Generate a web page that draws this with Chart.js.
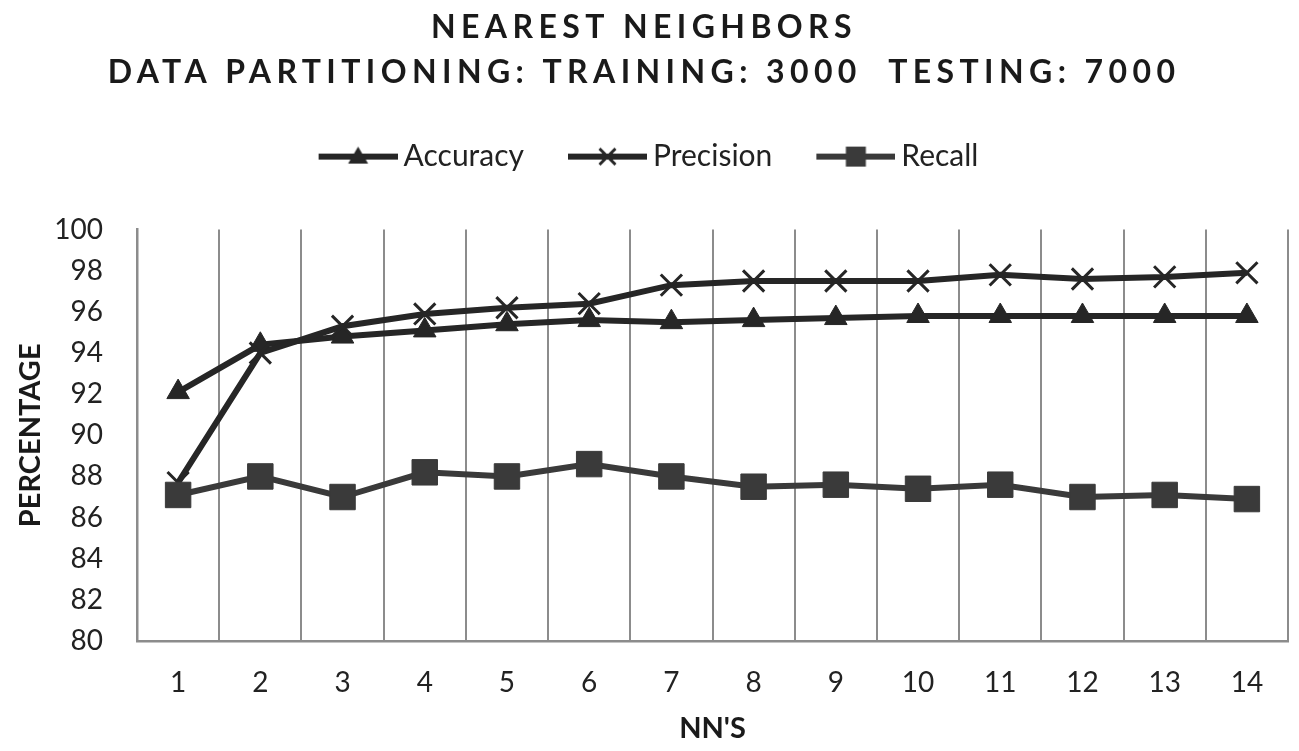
<!DOCTYPE html>
<html>
<head>
<meta charset="utf-8">
<title>Nearest Neighbors</title>
<script src="https://cdn.jsdelivr.net/npm/chart.js@4.4.1/dist/chart.umd.min.js"></script>
<style>
  html, body { margin: 0; background: #fff; }
  #wrap { width: 1299px; height: 751px; position: relative; }
</style>
</head>
<body>
<div id="wrap"><canvas id="nn"></canvas></div>
<script>
const neighbors = ['1', '2', '3', '4', '5', '6', '7', '8', '9', '10', '11', '12', '13', '14'];
const accuracy = [92.1, 94.4, 94.8, 95.1, 95.4, 95.6, 95.5, 95.6, 95.7, 95.8, 95.8, 95.8, 95.8, 95.8];
const precision = [87.7, 94.0, 95.3, 95.9, 96.2, 96.4, 97.3, 97.5, 97.5, 97.5, 97.8, 97.6, 97.7, 97.9];
const recall = [87.1, 88.0, 87.0, 88.2, 88.0, 88.6, 88.0, 87.5, 87.6, 87.4, 87.6, 87.0, 87.1, 86.9];
const yTicks = [80, 82, 84, 86, 88, 90, 92, 94, 96, 98, 100];

const font = 'Lato, "Open Sans", sans-serif';
const dark = '#262626';
const recallColor = '#3a3a3a';
const gridColor = '#8c8c8c';

// line + marker sample for the legend, like the spreadsheet legend
function legendGlyph(style, color) {
    const c = document.createElement('canvas');
    c.width = 97;
    c.height = 30;
    const g = c.getContext('2d');
    g.strokeStyle = color;
    g.fillStyle = color;
    g.lineWidth = 6;
    g.beginPath();
    g.moveTo(18, 15);
    g.lineTo(97, 15);
    g.stroke();
    const cx = 57.5, cy = 15;
    if (style === 'triangle') {
        g.beginPath();
        g.moveTo(cx, cy - 10);
        g.lineTo(cx + 10, cy + 7);
        g.lineTo(cx - 10, cy + 7);
        g.closePath();
        g.fill();
    } else if (style === 'cross') {
        g.lineWidth = 3;
        g.beginPath();
        g.moveTo(cx - 8, cy - 8);
        g.lineTo(cx + 8, cy + 8);
        g.moveTo(cx + 8, cy - 8);
        g.lineTo(cx - 8, cy + 8);
        g.stroke();
    } else {
        g.fillRect(cx - 10, cy - 10, 20, 20);
    }
    return c;
}

const glyphs = [
    legendGlyph('triangle', dark),
    legendGlyph('cross', dark),
    legendGlyph('square', recallColor)
];

// the title is letter-spaced in the original
const titleSpacing = {
    id: 'titleSpacing',
    afterLayout(chart) {
        const box = chart.titleBlock;
        if (!box || box.spaced) return;
        const draw = box.draw;
        box.draw = function () {
            this.ctx.save();
            this.ctx.letterSpacing = '5.4px';
            draw.apply(this, arguments);
            this.ctx.restore();
        };
        box.spaced = true;
    }
};

const ctx = document.getElementById('nn').getContext('2d');
new Chart(ctx, {
    type: 'line',
    data: {
        labels: neighbors,
        datasets: [{
            label: 'Accuracy',
            data: accuracy,
            borderColor: dark,
            backgroundColor: dark,
            borderWidth: 6,
            pointStyle: 'triangle',
            pointRadius: 13,
            pointBorderWidth: 1,
            order: 3
        }, {
            label: 'Precision',
            data: precision,
            borderColor: dark,
            backgroundColor: dark,
            borderWidth: 6,
            pointStyle: 'crossRot',
            pointRadius: 15,
            pointBorderWidth: 3,
            order: 2
        }, {
            label: 'Recall',
            data: recall,
            borderColor: recallColor,
            backgroundColor: recallColor,
            borderWidth: 6,
            pointStyle: 'rect',
            pointRadius: 18,
            pointBorderWidth: 1,
            order: 1
        }]
    },
    options: {
        responsive: true,
        maintainAspectRatio: false,
        animation: false,
        layout: {autoPadding: false, padding: {left: 0, right: 11, top: 0, bottom: 0}},
        scales: {
            x: {
                offset: true,
                grid: {
                    offset: true,
                    color: gridColor,
                    lineWidth: 2,
                    drawTicks: false
                },
                border: {display: true, color: gridColor, width: 2.5},
                ticks: {color: '#222', font: {family: font, size: 28}, padding: 25},
                title: {
                    display: true,
                    text: "NN'S",
                    color: '#1a1a1a',
                    font: {family: font, size: 29, weight: 'bold'},
                    padding: {top: 0, bottom: 5}
                },
                afterFit(scale) {
                    scale.height = 110;
                    scale.paddingLeft = 0;
                    scale.paddingRight = 0;
                }
            },
            y: {
                min: 80,
                max: 100,
                grid: {display: false, drawTicks: false},
                border: {display: true, color: gridColor, width: 2.5},
                afterBuildTicks(scale) {
                    scale.ticks = yTicks.map(v => ({value: v}));
                },
                ticks: {color: '#222', font: {family: font, size: 28}, padding: 34},
                title: {
                    display: true,
                    text: 'PERCENTAGE',
                    color: '#1a1a1a',
                    font: {family: font, size: 29, weight: 'bold'},
                    padding: {top: 13, bottom: 0}
                },
                afterFit(scale) { scale.width = 137; }
            }
        },
        plugins: {
            title: {
                display: true,
                text: ['NEAREST NEIGHBORS', 'DATA PARTITIONING: TRAINING: 3000  TESTING: 7000'],
                color: '#1a1a1a',
                font: {family: font, size: 32, weight: 'bold', lineHeight: 1.4},
                padding: {top: 5, bottom: 12}
            },
            subtitle: {
                // spacer between legend and plot
                display: true,
                text: '',
                weight: 100,
                font: {size: 10, lineHeight: '48px'},
                padding: 0
            },
            legend: {
                labels: {
                    usePointStyle: true,
                    pointStyleWidth: 79,
                    padding: 35,
                    color: '#222',
                    font: {family: font, size: 30},
                    generateLabels(chart) {
                        return chart.data.datasets.map((ds, i) => ({
                            text: ds.label,
                            pointStyle: glyphs[i],
                            fillStyle: ds.borderColor,
                            strokeStyle: ds.borderColor,
                            lineWidth: 0,
                            hidden: false,
                            fontColor: '#222',
                            datasetIndex: i
                        }));
                    }
                }
            },
            tooltip: {enabled: false}
        }
    },
    plugins: [titleSpacing]
});
</script>
</body>
</html>
